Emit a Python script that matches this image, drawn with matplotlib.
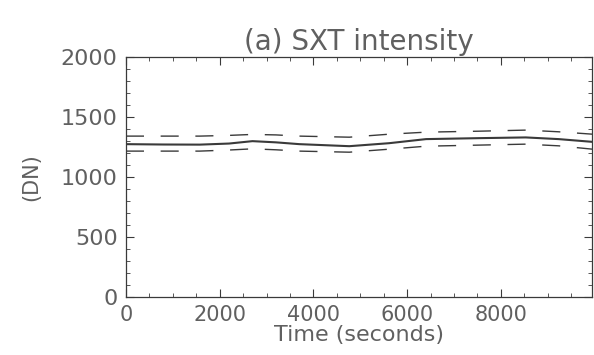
import matplotlib
matplotlib.use("Agg")
import matplotlib.pyplot as plt
from matplotlib.ticker import MultipleLocator

time_s = [0, 800, 1574, 2200, 2700, 3200, 3700, 4766, 5617, 6404, 7532, 8532, 9234, 9957]
intensity = [1275, 1272, 1271, 1280, 1300, 1290, 1275, 1258, 1283, 1317, 1325, 1331, 1317, 1294]
upper = [1342, 1342, 1342, 1348, 1356, 1352, 1342, 1333, 1358, 1375, 1383, 1392, 1378, 1358]
lower = [1217, 1217, 1217, 1226, 1236, 1228, 1217, 1208, 1233, 1258, 1267, 1275, 1261, 1233]

txt = "#606060"
ln = "#3a3a3a"

fig = plt.figure(figsize=(5.94, 3.55), dpi=100)
ax = fig.add_axes([0.212, 0.163, 0.785, 0.676])

ax.plot(time_s, intensity, color=ln, lw=1.5)
ax.plot(time_s, upper, color=ln, lw=1.0, ls=(0, (13, 12)))
ax.plot(time_s, lower, color=ln, lw=1.0, ls=(0, (13, 12)))

ax.set_xlim(0, 9950)
ax.set_ylim(0, 2000)
ax.xaxis.set_major_locator(MultipleLocator(2000))
ax.xaxis.set_minor_locator(MultipleLocator(500))
ax.yaxis.set_major_locator(MultipleLocator(500))
ax.yaxis.set_minor_locator(MultipleLocator(100))
ax.tick_params(which="both", direction="in", top=True, right=True, colors=ln, labelcolor=txt)
ax.tick_params(axis="y", labelsize=16, pad=6)
ax.tick_params(axis="x", labelsize=15, pad=6)
ax.tick_params(which="major", length=6, width=0.8)
ax.tick_params(which="minor", length=3, width=0.6)
for s in ax.spines.values():
    s.set_color(ln)
    s.set_linewidth(0.9)

ax.set_title("(a) SXT intensity", fontsize=20, color=txt, pad=5)
ax.set_xlabel("Time (seconds)", fontsize=16, color=txt, labelpad=0)
ax.set_ylabel("(DN)", fontsize=15, color=txt, labelpad=14)

fig.savefig("out.png", dpi=100)
